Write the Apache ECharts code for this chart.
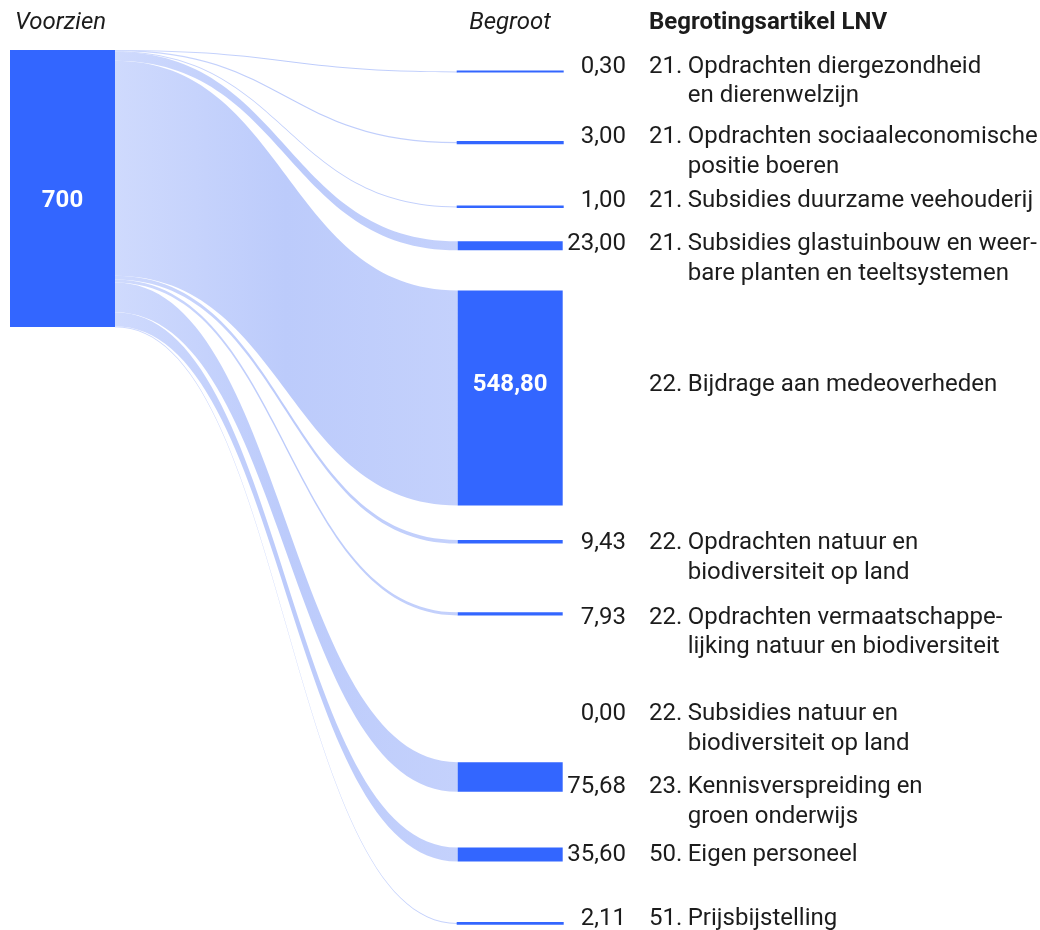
<!DOCTYPE html>
<html>
<head>
<meta charset="utf-8">
<title>Begroting LNV</title>
<script src="https://cdn.jsdelivr.net/npm/echarts@6/dist/echarts.min.js"></script>
<style>
  html, body { margin: 0; padding: 0; background: #fff; }
  #chart { width: 1040px; height: 930px; }
</style>
</head>
<body>
<div id="chart"></div>
<script>
// bron
const sourceName = 'Voorzien';
const sourceLabel = '700';

// begrotingsartikelen, van boven naar beneden
const articleNumbers = ['21.', '21.', '21.', '21.', '22.', '22.', '22.', '22.', '23.', '50.', '51.'];
const articleNames = [
  ['Opdrachten diergezondheid', 'en dierenwelzijn'],
  ['Opdrachten sociaaleconomische', 'positie boeren'],
  ['Subsidies duurzame veehouderij'],
  ['Subsidies glastuinbouw en weer-', 'bare planten en teeltsystemen'],
  ['Bijdrage aan medeoverheden'],
  ['Opdrachten natuur en', 'biodiversiteit op land'],
  ['Opdrachten vermaatschappe-', 'lijking natuur en biodiversiteit'],
  ['Subsidies natuur en', 'biodiversiteit op land'],
  ['Kennisverspreiding en', 'groen onderwijs'],
  ['Eigen personeel'],
  ['Prijsbijstelling']
];
const budgeted = [0.30, 3.00, 1.00, 23.00, 548.80, 9.43, 7.93, 0.00, 75.68, 35.60, 2.11];

// layout (px)
const W = 1040, H = 930;
const SOURCE_X = 10, SOURCE_Y = 50;
const TARGET_X = 457.7;
const NODE_W = 105;
const nodeTops = [71.4, 142.1, 206.5, 241.3, 290.4, 539.9, 612.3, 712, 762.2, 847.5, 922.9];
const labelMids = [64.5, 135.3, 199, 242, 383.3, 541.3, 615.7, 712, 785.3, 853.3, 916.7];

const FONT = 'Roboto';
const FS = 24;
const LH = 29.5;
const TEXT = '#1c1c1c';
const BLUE = '#3366ff';
const VALUE_BOX = 191.3;  // node left edge -> article number
const VALUE_GAP = 23;     // value right edge -> article number
const NUM_BOX = 38.7;
const TEXT_SHIFT = 2;     // glyph centre sits a bit above the line middle

const ctx = document.createElement('canvas').getContext('2d');
function textWidth(s, font) {
  ctx.font = font;
  return ctx.measureText(s).width;
}
function fmt(v) {
  return v.toFixed(2).replace('.', ',');
}

const chart = echarts.init(document.getElementById('chart'));

const nodes = [{
  name: sourceName,
  localX: SOURCE_X / W,
  localY: SOURCE_Y / H,
  itemStyle: { color: BLUE, borderWidth: 0 },
  label: {
    position: 'inside',
    offset: [0, 12],
    formatter: sourceLabel,
    color: '#fff',
    fontWeight: 'bold',
    fontSize: FS,
    fontFamily: FONT
  }
}];
const links = [];

budgeted.forEach(function (v, i) {
  const name = articleNumbers[i] + ' ' + articleNames[i].join(' ');
  const bw = v > 0 && v < 5 ? 2 : 0;
  const inside = v > 100;
  const valTxt = fmt(v);
  let padL, padR;
  if (inside) {
    const w = textWidth(valTxt, 'bold ' + FS + 'px ' + FONT);
    padL = (NODE_W - w) / 2;
    padR = VALUE_BOX - padL - w;
  } else {
    const w = textWidth(valTxt, FS + 'px ' + FONT);
    padR = VALUE_GAP;
    padL = VALUE_BOX - VALUE_GAP - w;
  }
  const lines = articleNames[i];
  let str = '{v|' + valTxt + '}{n|' + articleNumbers[i] + '}{t|' + lines[0] + '}';
  for (let k = 1; k < lines.length; k++) {
    str += '\n{e| }{t|' + lines[k] + '}';
  }
  const base = { fontFamily: FONT, fontSize: FS, lineHeight: LH, color: TEXT };
  nodes.push({
    name: name,
    localX: TARGET_X / W,
    localY: nodeTops[i] / H,
    itemStyle: v > 0
      ? { color: BLUE, borderColor: BLUE, borderWidth: bw }
      : { color: 'rgba(0,0,0,0)', borderWidth: 0 },
    label: {
      position: [bw / 2, labelMids[i] + TEXT_SHIFT - LH / 2 - (nodeTops[i] - bw / 2)],
      align: 'left',
      verticalAlign: 'top',
      formatter: str,
      fontFamily: FONT,
      fontSize: FS,
      lineHeight: LH,
      color: TEXT,
      rich: {
        v: Object.assign({}, base, {
          padding: [0, padR, 0, padL],
          color: inside ? '#fff' : TEXT,
          fontWeight: inside ? 'bold' : 'normal'
        }),
        n: Object.assign({}, base, { width: NUM_BOX }),
        e: Object.assign({}, base, { width: VALUE_BOX + NUM_BOX }),
        t: Object.assign({}, base)
      }
    }
  });
  links.push({
    source: sourceName,
    target: name,
    value: v,
    lineStyle: v > 0 ? {} : { opacity: 0 }
  });
});

const linkColor = new echarts.graphic.LinearGradient(115, 0, 457, 0, [
  { offset: 0, color: '#cfdafd' },
  { offset: 0.5, color: '#bccbfb' },
  { offset: 1, color: '#c4d1fc' }
], true);

const titleStyle = { fontFamily: FONT, fontSize: FS, lineHeight: 30, color: TEXT, fontWeight: 'normal' };

const option = {
  animation: false,
  title: [
    { text: 'Voorzien', left: 15, top: 7.5, padding: 0,
      textStyle: Object.assign({}, titleStyle, { fontStyle: 'italic' }) },
    { text: 'Begroot', left: 510, top: 7.5, padding: 0, textAlign: 'center',
      textStyle: Object.assign({}, titleStyle, { fontStyle: 'italic' }) },
    { text: 'Begrotingsartikel LNV', left: 649, top: 7.5, padding: 0,
      textStyle: Object.assign({}, titleStyle, { fontWeight: 'bold' }) }
  ],
  series: [{
    type: 'sankey',
    left: 0,
    top: 0,
    right: 0,
    bottom: 0,
    nodeWidth: NODE_W,
    // sets the value scale: 548,80 comes out about 215px tall
    nodeGap: 65.3,
    layoutIterations: 0,
    draggable: false,
    emphasis: { disabled: true },
    itemStyle: { color: BLUE },
    lineStyle: { color: linkColor, opacity: 1, curveness: 0.5 },
    data: nodes,
    links: links
  }]
};

chart.setOption(option);
</script>
</body>
</html>
